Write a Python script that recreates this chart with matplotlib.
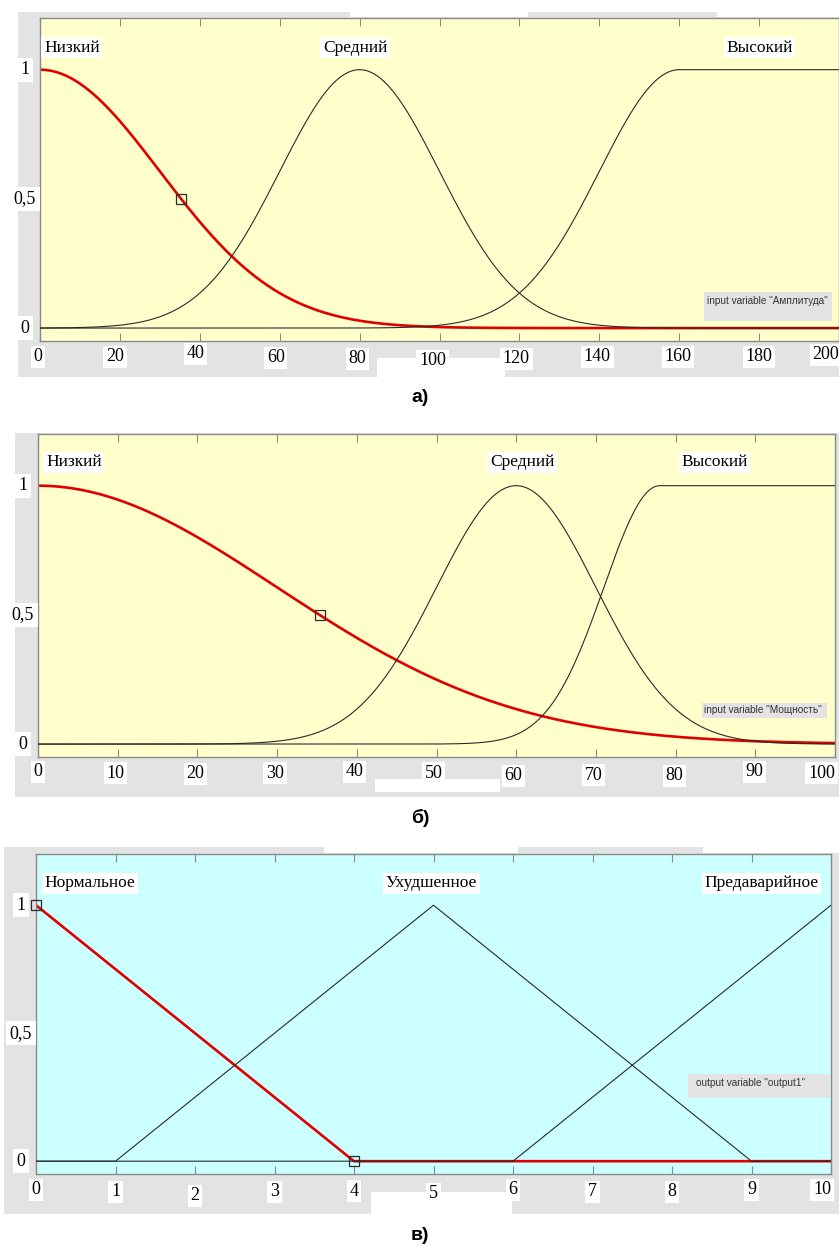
import numpy as np
import matplotlib
matplotlib.use('Agg')
import matplotlib.pyplot as plt
from matplotlib.patches import Rectangle

# ---------------- data ----------------
# panel a: input variable "Амплитуда" (gaussmf / gauss2mf parameters)
amp_range = [0, 200]
amp_ticks = [0, 20, 40, 60, 80, 100, 120, 140, 160, 180, 200]
amp_names = ['Низкий', 'Средний', 'Высокий']
amp_low = [30.0, 0.0]          # sigma, centre
amp_mid = [20.0, 80.0]         # sigma, centre
amp_high = [20.0, 160.0, 200.0]  # left sigma, left centre, plateau end
amp_title = 'input variable "Амплитуда"'

# panel b: input variable "Мощность"
pow_range = [0, 100]
pow_ticks = [0, 10, 20, 30, 40, 50, 60, 70, 80, 90, 100]
pow_names = ['Низкий', 'Средний', 'Высокий']
pow_low = [30.0, 0.0]
pow_mid = [10.0, 60.0]
pow_high = [7.0, 78.0, 100.0]
pow_title = 'input variable "Мощность"'

# panel c: output variable "output1" (trimf parameters)
out_range = [0, 10]
out_ticks = [0, 1, 2, 3, 4, 5, 6, 7, 8, 9, 10]
out_names = ['Нормальное', 'Ухудшенное', 'Предаварийное']
out_norm = [-4.0, 0.0, 4.0]
out_worse = [1.0, 5.0, 9.0]
out_pre = [6.0, 10.0, 14.0]
out_title = 'output variable "output1"'

y_ticks = [0, 0.5, 1]
y_labels = ['0', '0,5', '1']
captions = ['а)', 'б)', 'в)']

# label placement jitter (pixels below the axis) as seen in the screenshot
amp_lbl_dy = [16, 16, 13, 17, 18, 20, 18, 16, 16, 16, 14]
amp_lbl_dx = [-2, -5, -4, -4, -2, -7, -3, -2, -1, 0, 0]
pow_lbl_dy = [15, 16, 17, 16, 15, 16, 19, 18, 19, 15, 16]
pow_lbl_dx = [0, -2, -2, -2, -2, -3, -3, -2, -1, -1, 0]
out_lbl_dy = [16, 18, 22, 18, 17, 20, 16, 18, 18, 16, 16]
out_lbl_dx = [0, 0, 0, 0, 0, 0, 0, 0, 0, 0, 0]

# ---------------- helpers ----------------
def gaussmf(x, s, c):
    return np.exp(-(x - c) ** 2 / (2 * s ** 2))

def gauss2mf_left(x, s, c, end):
    y = np.ones_like(x)
    m = x < c
    y[m] = gaussmf(x[m], s, c)
    return y

def trimf(x, a, b, c):
    return np.clip(np.minimum((x - a) / (b - a), (c - x) / (c - b)), 0, 1)

W, H, DPI = 839, 1245, 100
fig = plt.figure(figsize=(W / DPI, H / DPI), dpi=DPI)
fig.patch.set_facecolor('white')

SERIF = ['Liberation Serif', 'DejaVu Serif']
SANS = ['Liberation Sans', 'DejaVu Sans']
GRAY = '#e3e3e3'
RED = '#e00000'
LINE = '#2a2a2a'

def fig_rect(x0, y0, x1, y1, color, z=-5):
    fig.add_artist(Rectangle((x0 / W, 1 - y1 / H), (x1 - x0) / W, (y1 - y0) / H,
                             transform=fig.transFigure, facecolor=color,
                             edgecolor='none', zorder=z))

def make_axes(l, t, r, b, xr, ticks, bg, dys, dxs):
    ax = fig.add_axes([l / W, 1 - b / H, (r - l) / W, (b - t) / H])
    ax.set_facecolor(bg)
    ax.set_xlim(xr)
    ax.set_ylim(-0.05, 1.2)
    ax.set_xticks(ticks)
    ax.set_yticks([])
    ax.tick_params(axis='x', direction='in', top=True, bottom=True, length=6,
                   width=0.8, color='#8a8a8a', labelbottom=False)
    for s in ax.spines.values():
        s.set_color('#8a8a8a')
        s.set_linewidth(1.0)
    n = len(ticks)
    for i, v in enumerate(ticks):
        ha = 'center'
        if i == n - 1:
            ha = 'right'
        ax.annotate(str(v), xy=(v, 0), xycoords=ax.get_xaxis_transform(),
                    xytext=(dxs[i], -dys[i]), textcoords='offset pixels', ha=ha,
                    va='center', fontsize=13, family=SERIF, annotation_clip=False,
                    bbox=dict(boxstyle='square,pad=0.15', fc='white', ec='none'))
    for v, lab in zip(y_ticks, y_labels):
        ax.annotate(lab, xy=(0, v), xycoords=ax.get_yaxis_transform(),
                    xytext=(-15, 0), textcoords='offset pixels', ha='center',
                    va='center', fontsize=13, family=SERIF, annotation_clip=False,
                    bbox=dict(boxstyle='square,pad=0.2', fc='white', ec='none'))
    return ax

def name_labels(ax, names, xs, y):
    for n, x in zip(names, xs):
        ax.text(x, y, n, ha='left', va='center', fontsize=12.5, family=SERIF,
                bbox=dict(boxstyle='square,pad=0.15', fc='white', ec='none'), zorder=5)

def legend_box(x0, y0, x1, y1, tx, ty, text):
    fig_rect(x0, y0, x1, y1, GRAY, z=10)
    fig.text(tx / W, 1 - ty / H, text, ha='left', va='center', fontsize=7.2,
             family=SANS, color='#333333', zorder=11)

# ---------------- panel a ----------------
fig_rect(18, 12, 839, 377, GRAY)
fig_rect(377, 358, 505, 378, 'white', z=-4)
fig_rect(350, 11, 528, 17, 'white', z=-4)
fig_rect(717, 11, 840, 17, 'white', z=-4)
axa = make_axes(40, 18, 839, 341, amp_range, amp_ticks, '#ffffcc', amp_lbl_dy, amp_lbl_dx)
x = np.linspace(amp_range[0], amp_range[1], 801)
axa.plot(x, gaussmf(x, *amp_low), color=RED, lw=1.9, zorder=2)
axa.plot(x, gaussmf(x, *amp_mid), color=LINE, lw=0.8, zorder=3)
axa.plot(x, gauss2mf_left(x, *amp_high), color=LINE, lw=0.8, zorder=3)
mx = amp_low[1] + amp_low[0] * np.sqrt(2 * np.log(2))
axa.plot([mx], [gaussmf(mx, *amp_low)], marker='s', ms=7, mfc='none', mec=LINE,
         mew=0.9, zorder=4)
name_labels(axa, amp_names, [1, 70.8, 171.8], 1.085)
legend_box(704, 292, 832, 321, 707, 301, amp_title)
fig.text(420 / W, 1 - 398 / H, captions[0], ha='center', va='center',
         fontsize=14, fontweight='bold', family=SANS)

# ---------------- panel b ----------------
fig_rect(15, 433, 839, 797, GRAY)
fig_rect(375, 779, 500, 792, 'white', z=-4)
axb = make_axes(38, 434, 835, 757, pow_range, pow_ticks, '#ffffcc', pow_lbl_dy, pow_lbl_dx)
x = np.linspace(pow_range[0], pow_range[1], 801)
axb.plot(x, gaussmf(x, *pow_low), color=RED, lw=1.9, zorder=2)
axb.plot(x, gaussmf(x, *pow_mid), color=LINE, lw=0.8, zorder=3)
axb.plot(x, gauss2mf_left(x, *pow_high), color=LINE, lw=0.8, zorder=3)
mx = pow_low[1] + pow_low[0] * np.sqrt(2 * np.log(2))
axb.plot([mx], [gaussmf(mx, *pow_low)], marker='s', ms=7, mfc='none', mec=LINE,
         mew=0.9, zorder=4)
name_labels(axb, pow_names, [1, 56.7, 80.7], 1.09)
legend_box(702, 703, 827, 718, 704, 710, pow_title)
fig.text(420 / W, 1 - 818 / H, captions[1], ha='center', va='center',
         fontsize=14, fontweight='bold', family=SANS)

# ---------------- panel c ----------------
fig_rect(4, 847, 839, 1214, GRAY)
fig_rect(371, 1192, 512, 1215, 'white', z=-4)
fig_rect(324, 845, 518, 853, 'white', z=-4)
fig_rect(703, 845, 840, 853, 'white', z=-4)
axc = make_axes(36, 854, 831, 1174, out_range, out_ticks, '#ccffff', out_lbl_dy, out_lbl_dx)
x = np.linspace(out_range[0], out_range[1], 1001)
axc.plot(x, trimf(x, *out_norm), color=RED, lw=1.9, zorder=2)
axc.plot(x, trimf(x, *out_worse), color=LINE, lw=0.8, zorder=3)
axc.plot(x, trimf(x, *out_pre), color=LINE, lw=0.8, zorder=3)
mk = [out_norm[1], out_norm[2]]
axc.plot(mk, [trimf(np.array(v), *out_norm) for v in mk], ls='none', marker='s',
         ms=7, mfc='none', mec=LINE, mew=0.9, zorder=4, clip_on=False)
name_labels(axc, out_names, [0.11, 4.4, 8.41], 1.085)
legend_box(688, 1074, 830, 1098, 696, 1083, out_title)
fig.text(420 / W, 1 - 1236 / H, captions[2], ha='center', va='center',
         fontsize=14, fontweight='bold', family=SANS)

fig.savefig('out.png', dpi=DPI, facecolor='white')
